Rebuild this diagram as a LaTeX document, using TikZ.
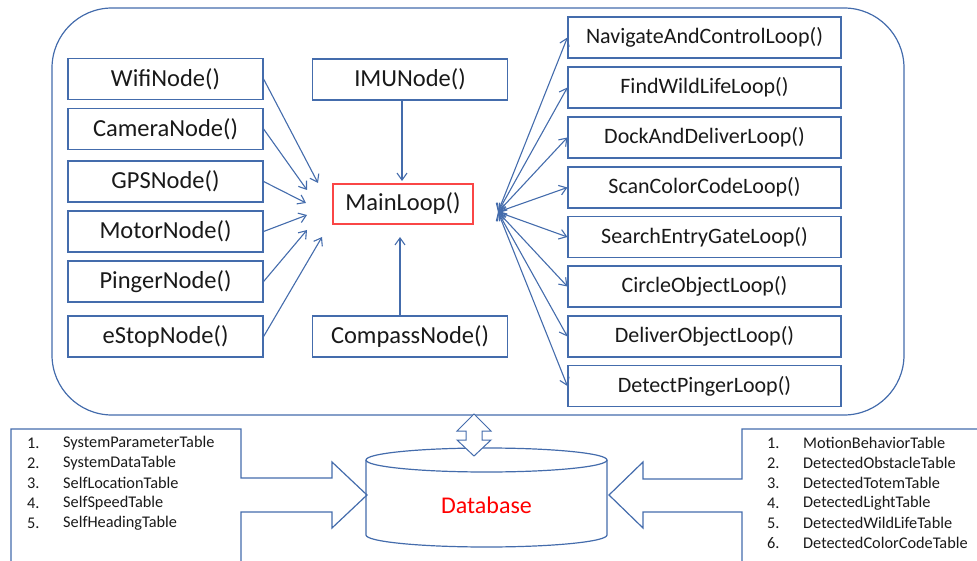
\documentclass[tikz,border=0pt]{standalone}
\usepackage{fontspec}
\setmainfont{Carlito}
\usetikzlibrary{arrows.meta}
\definecolor{lineblue}{RGB}{68,108,172}
\definecolor{textdark}{RGB}{25,25,25}
\definecolor{mainred}{RGB}{250,70,70}
\tikzset{
  box/.style={draw=lineblue, line width=1.2pt, inner sep=0pt, text=textdark,
              font=\fontsize{24.5}{28}\selectfont},
  nodebox/.style={box, minimum width=195pt, minimum height=41pt},
  loopbox/.style={box, minimum width=273pt, minimum height=41pt,
                  font=\fontsize{22}{26}\selectfont},
  link/.style={draw=lineblue, line width=1.1pt, -{Straight Barb[length=7pt,width=10pt]}},
  duplex/.style={draw=lineblue, line width=1.1pt,
                 {Straight Barb[length=7pt,width=10pt]}-{Straight Barb[length=7pt,width=10pt]}},
  outline/.style={draw=lineblue, line width=1.2pt},
  listtxt/.style={anchor=west, inner sep=0pt, text=textdark,
                  font=\fontsize{16.3}{19}\selectfont}
}
\begin{document}
\begin{tikzpicture}[x=1pt, y=-1pt]
  \useasboundingbox (0,0) rectangle (977,561);

  % enclosing process frame
  \draw[outline, rounded corners=60pt] (52,8) rectangle (904,415);

  % sensor / device nodes on the left
  \node[nodebox] (wifi)    at (165.5,79)    {WifiNode()};
  \node[nodebox] (camera)  at (165.5,129)   {CameraNode()};
  \node[nodebox] (gps)     at (165.5,181.5) {GPSNode()};
  \node[nodebox] (motor)   at (165.5,231.5) {MotorNode()};
  \node[nodebox] (pinger)  at (165.5,281.5) {PingerNode()};
  \node[nodebox] (estop)   at (165.5,336.5) {eStopNode()};

  % central column
  \node[nodebox] (imu)     at (410,79.5)    {IMUNode()};
  \node[nodebox] (compass) at (410,336.5)   {CompassNode()};
  \node[box, draw=mainred, minimum width=140pt, minimum height=40pt] (main) at (403,204) {MainLoop()};

  % behaviour loops on the right
  \node[loopbox] (nav)     at (704.5,37.5)  {NavigateAndControlLoop()};
  \node[loopbox] (wild)    at (704.5,87.5)  {FindWildLifeLoop()};
  \node[loopbox] (dock)    at (704.5,137.5) {DockAndDeliverLoop()};
  \node[loopbox] (scan)    at (704.5,187.5) {ScanColorCodeLoop()};
  \node[loopbox] (gate)    at (704.5,237)   {SearchEntryGateLoop()};
  \node[loopbox] (circle)  at (704.5,286.5) {CircleObjectLoop()};
  \node[loopbox] (deliver) at (704.5,336.5) {DeliverObjectLoop()};
  \node[loopbox] (detect)  at (704.5,386)   {DetectPingerLoop()};

  % arrow end points around the main loop
  \coordinate (inWifi)    at (318,183);
  \coordinate (inCamera)  at (307,190);
  \coordinate (inGps)     at (306,203);
  \coordinate (inMotor)   at (307,215);
  \coordinate (inPinger)  at (307,230);
  \coordinate (inEstop)   at (322,237);
  \coordinate (inImu)     at (402,181);
  \coordinate (inCompass) at (400,237);
  \coordinate (hub)       at (498,212);

  \draw[link] (wifi.east)   -- (inWifi);
  \draw[link] (camera.east) -- (inCamera);
  \draw[link] (gps.east)    -- (inGps);
  \draw[link] (motor.east)  -- (inMotor);
  \draw[link] (pinger.east) -- (inPinger);
  \draw[link] (estop.east)  -- (inEstop);
  \draw[link] (inImu |- imu.south) -- (inImu);
  \draw[link] (inCompass |- compass.north) -- (inCompass);

  \foreach \l in {nav,wild,dock,scan,gate,circle,deliver,detect}
    \draw[duplex] (hub) -- (\l.west);

  % database cylinder
  \coordinate (db) at (486.5,460);
  \draw[outline, fill=white] (366,460) -- (366,535)
        arc[start angle=180, end angle=360, x radius=120.5pt, y radius=12pt]
        -- (607,460);
  \draw[outline] (db) ellipse[x radius=120.5pt, y radius=12pt];
  \node[text=red, font=\fontsize{24}{28}\selectfont, inner sep=0pt] (dbtext) at (486.5,505) {Database};

  % two-way block arrow between frame and database
  \draw[outline, line width=1pt, fill=white]
        (474,414) -- (491,431) -- (482,431) -- (482,440) -- (491,440) -- (474,456)
        -- (457,440) -- (466,440) -- (466,431) -- (457,431) -- cycle;

  % left table list with its arrow callout
  \draw[outline] (11,561) -- (11,429) -- (241,429) -- (241,478) -- (332,478)
        -- (332,462) -- (367,495) -- (332,528) -- (332,512) -- (241,512) -- (241,561);
  \foreach \n/\t [count=\k from 0] in {1./SystemParameterTable,2./SystemDataTable,
      3./SelfLocationTable,4./SelfSpeedTable,5./SelfHeadingTable} {
    \node[listtxt] (ln\k) at (27,443+20*\k) {\n};
    \node[listtxt] (lt\k) at (63,443+20*\k) {\t};
  }

  % right table list with its arrow callout
  \draw[outline] (977,429) -- (742,429) -- (742,479) -- (643,479)
        -- (643,462) -- (609,495) -- (643,528) -- (643,512) -- (742,512) -- (742,561);
  \foreach \n/\t [count=\k from 0] in {1./MotionBehaviorTable,2./DetectedObstacleTable,
      3./DetectedTotemTable,4./DetectedLightTable,5./DetectedWildLifeTable,
      6./DetectedColorCodeTable} {
    \node[listtxt] (rn\k) at (767,443+20*\k) {\n};
    \node[listtxt] (rt\k) at (803,443+20*\k) {\t};
  }
\end{tikzpicture}
\end{document}
